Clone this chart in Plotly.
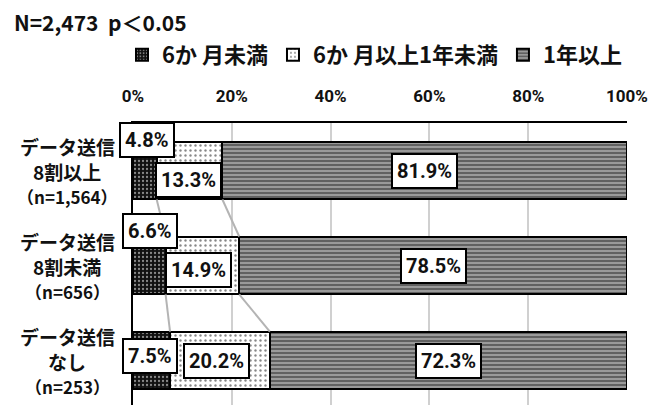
import plotly.graph_objects as go

# ---- data ----
categories_line1 = ["データ送信", "データ送信", "データ送信"]
categories_line2 = ["8割以上", "8割未満", "なし"]
categories_n = ["（n=1,564）", "（n=656）", "（n=253）"]
series_names = ["6か 月未満", "6か 月以上1年未満", "1年以上"]
under_6m = [4.8, 6.6, 7.5]
from_6m_to_1y = [13.3, 14.9, 20.2]
over_1y = [81.9, 78.5, 72.3]
tick_vals = [0, 20, 40, 60, 80, 100]
tick_text = ["0%", "20%", "40%", "60%", "80%", "100%"]
title_text = "N=2,473\u00a0\u00a0p＜0.05"

series_values = [under_6m, from_6m_to_1y, over_1y]

# ---- style ----
# the page body has an 8px margin, so the figure is drawn 8px smaller and offset
OFF = 8
W, H = 666 - OFF, 405 - OFF
L, R, T, B = 133 - OFF, 39, 123 - OFF, 0
PW, PH = W - L - R, H - T - B
BAR_W = 0.61
LAT = "Roboto, 'Noto Sans CJK JP', sans-serif"
JP = "'Noto Sans CJK JP', sans-serif"
patterns = [
    dict(shape=".", fgcolor="#ffffff", bgcolor="#111111", size=4, solidity=0.25),
    dict(shape=".", fgcolor="#111111", bgcolor="#ffffff", size=5, solidity=0.18),
    dict(shape="-", fgcolor="#1a1a1a", bgcolor="#9a9a9a", size=4, solidity=0.45),
]
base_colors = ["#111111", "#ffffff", "#9a9a9a"]
# label offsets (px) per series, per category: (xshift, yshift)
label_offsets = [
    [(2, 31), (1, 35), (-2, 5)],
    [(-1, -9), (-4, -4), (-3, 0)],
    [(0, 0), (0, 0), (0, 0)],
]

ypos = list(range(len(categories_line2)))

fig = go.Figure()

# series lines (connectors between bars)
cum = []
for i in ypos:
    s = 0
    row = []
    for vals in series_values:
        s += vals[i]
        row.append(s)
    cum.append(row)
for k in range(2):
    xs, ys = [], []
    for i in ypos[:-1]:
        xs += [cum[i][k], cum[i + 1][k], None]
        ys += [i + BAR_W / 2, i + 1 - BAR_W / 2, None]
    fig.add_trace(go.Scatter(x=xs, y=ys, mode="lines", line=dict(color="#b4b4b4", width=2),
                             showlegend=False, hoverinfo="skip"))

for name, vals, pat, col in zip(series_names, series_values, patterns, base_colors):
    fig.add_trace(go.Bar(
        y=ypos, x=vals, name=name, orientation="h", width=BAR_W,
        marker=dict(color=col, pattern=pat, line=dict(color="#000000", width=2)),
    ))

annotations = []
# data labels
for s, vals in enumerate(series_values):
    for i in ypos:
        start = cum[i][s] - vals[i]
        xs, ysh = label_offsets[s][i]
        annotations.append(dict(
            x=start + vals[i] / 2, y=i, xref="x", yref="y",
            text=f"{vals[i]:.1f}%", showarrow=False,
            xshift=xs, yshift=ysh,
            font=dict(family=LAT, size=20, color="#111111", weight="bold"),
            bgcolor="#ffffff", bordercolor="#000000", borderwidth=2, borderpad=4,
        ))

# category labels
for i in ypos:
    for txt, sh, sz in [(categories_line1[i], 24, 19), (categories_line2[i], -1, 19),
                        (categories_n[i], -26, 17)]:
        annotations.append(dict(
            x=(67 - OFF - L) / PW, y=i, xref="paper", yref="y", xanchor="center",
            text=txt, showarrow=False, yshift=sh,
            font=dict(family=JP, size=sz, color="#111111", weight="bold"),
        ))

# title
annotations.append(dict(
    x=(13 - OFF - L) / PW, y=(H - B - (22 - OFF)) / PH, xref="paper", yref="paper",
    xanchor="left", yanchor="middle", borderpad=0,
    text=title_text, showarrow=False,
    font=dict(family=JP, size=21, color="#111111", weight="bold"),
))

fig.update_layout(
    width=W, height=H,
    margin=dict(l=L, r=R, t=T, b=B, autoexpand=False),
    paper_bgcolor="#ffffff", plot_bgcolor="#ffffff",
    barmode="stack", bargap=0.39,
    showlegend=True,
    legend=dict(orientation="h", xref="paper", yref="paper",
                x=(114 - L) / PW, y=(H - B - 47) / PH, xanchor="left", yanchor="middle",
                font=dict(family=JP, size=22, color="#111111", weight="bold"),
                traceorder="normal", bgcolor="rgba(0,0,0,0)"),
    annotations=annotations,
    xaxis=dict(range=[0, 100], side="top", tickvals=tick_vals, ticktext=tick_text,
               showgrid=True, gridcolor="#d0d0d0", gridwidth=2,
               showline=True, linecolor="#000000", linewidth=2,
               zeroline=False, ticks="", ticklabelstandoff=12,
               tickfont=dict(family=LAT, size=17, color="#111111", weight="bold")),
    yaxis=dict(range=[2.5 - 3 / 95, -0.5], showgrid=False, zeroline=False,
               showline=True, linecolor="#000000", linewidth=2,
               showticklabels=False, ticks=""),
)

fig.write_html("out.html")
